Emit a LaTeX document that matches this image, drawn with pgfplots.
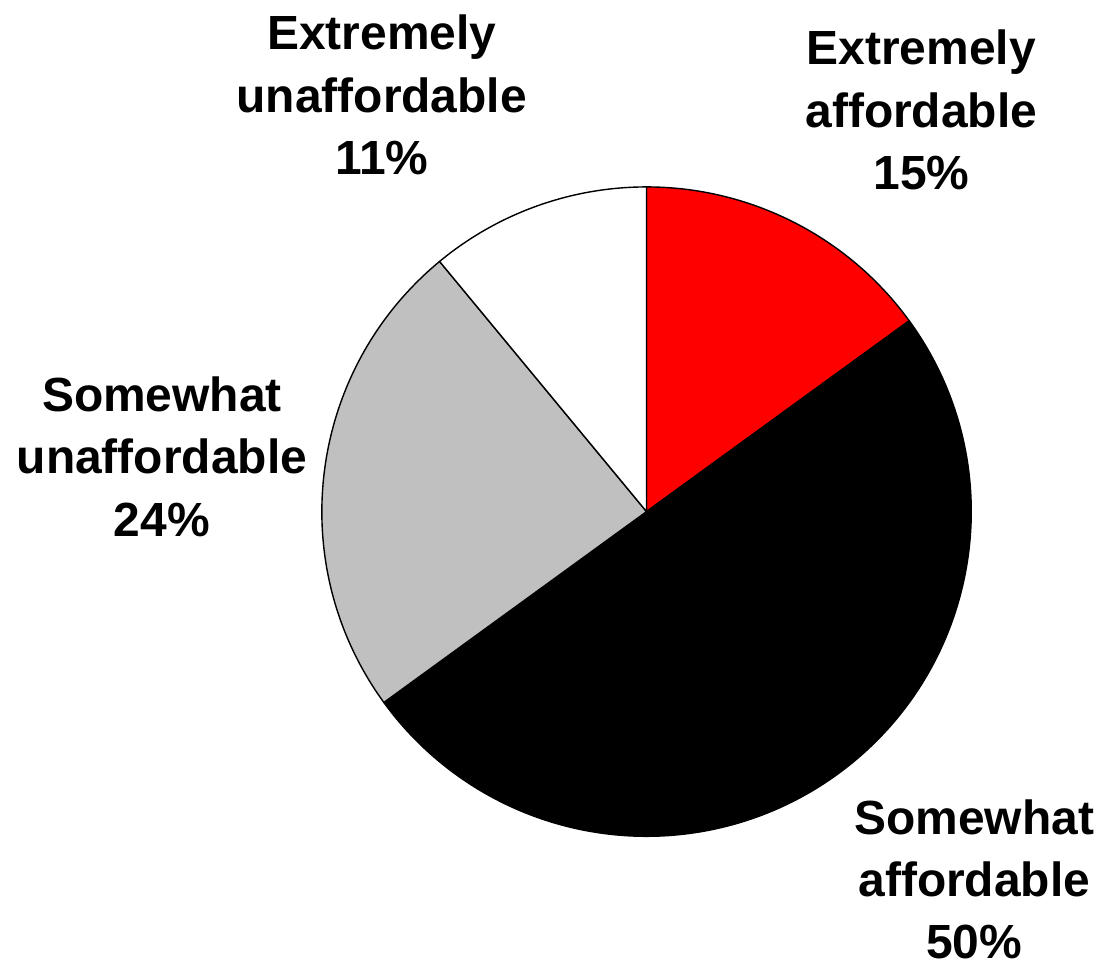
\documentclass[border=0pt]{standalone}
\usepackage{pgfplots}
\pgfplotsset{compat=1.18}
\usepackage{fontspec}
\setmainfont{Liberation Sans}
\definecolor{sgray}{HTML}{C0C0C0}
% percentage shares, clockwise from 12 o'clock
% Extremely affordable 15, Somewhat affordable 50, Somewhat unaffordable 24, Extremely unaffordable 11
\newcommand{\slice}[3]{%
  \filldraw[fill=#3, draw=black, line width=0.8pt, line join=round]
    (axis cs:647,455) -- ++({90-3.6*#1}:6.5cm)
    arc[start angle={90-3.6*#1}, end angle={90-3.6*(#1+#2)}, radius=6.5cm] -- cycle;}
\begin{document}
\begin{tikzpicture}
\begin{axis}[
  x=0.02cm, y=0.02cm,
  xmin=0, xmax=1100, ymin=0, ymax=967,
  hide axis, clip=false, scale only axis,
]
\path (axis cs:0,0) rectangle (axis cs:1100,967);
\slice{0}{15}{red}
\slice{15}{50}{black}
\slice{65}{24}{sgray}
\slice{89}{11}{white}
\tikzset{lab/.style={align=center, font=\fontsize{27.3pt}{35.5pt}\selectfont\bfseries}}
\node[lab] at (axis cs:382,872) {Extremely\\unaffordable\\11\%};
\node[lab] at (axis cs:922,857) {Extremely\\affordable\\15\%};
\node[lab] at (axis cs:162,510) {Somewhat\\unaffordable\\24\%};
\node[lab] at (axis cs:975,87) {Somewhat\\affordable\\50\%};
\end{axis}
\end{tikzpicture}
\end{document}
